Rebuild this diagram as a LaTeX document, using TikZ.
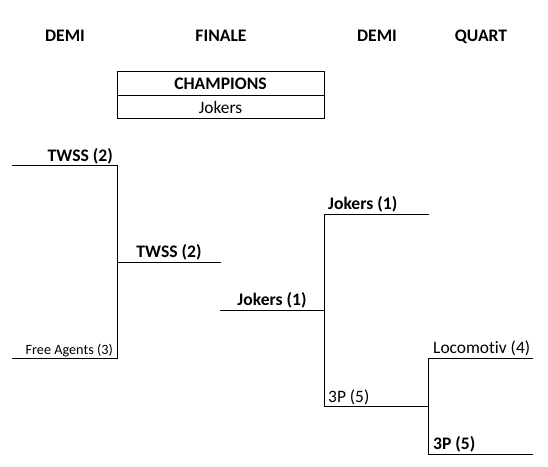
\documentclass[tikz,border=0pt]{standalone}
\usepackage{fontspec}
\setmainfont{Carlito}[Ligatures={NoCommon,NoRare}]
\begin{document}
\begin{tikzpicture}[x=1pt,y=-1pt,
  ln/.style={line width=1pt,black},
  hdr/.style={font=\fontsize{17.6}{20}\selectfont\bfseries,anchor=base,inner sep=0pt},
  bt/.style={font=\fontsize{17.6}{20}\selectfont\bfseries,inner sep=0pt},
  rt/.style={font=\fontsize{17.4}{20}\selectfont,inner sep=0pt},
  st/.style={font=\fontsize{14.2}{16}\selectfont,inner sep=0pt}]
\useasboundingbox[fill=white] (0,0) rectangle (548,466);
% headers
\node[hdr] (h1) at (65,41) {DEMI};
\node[hdr] (h2) at (221,41) {FINALE};
\node[hdr] (h3) at (377,41) {DEMI};
\node[hdr] (h4) at (481,41) {QUART};
% champions box
\draw[ln] (117,71) rectangle (324,118);
\draw[ln] (117,95) -- (324,95);
\node[bt,anchor=base] (champ) at (220.5,89) {CHAMPIONS};
\node[rt,anchor=base] (winner) at (220.5,113) {Jokers};
% coordinates
\coordinate (a1) at (12,165); \coordinate (a2) at (117,165);
\coordinate (b1) at (12,358); \coordinate (b2) at (117,358);
\coordinate (c1) at (117,262); \coordinate (c2) at (221,262);
\coordinate (d1) at (220,310); \coordinate (d2) at (324,310);
\coordinate (e1) at (324,214); \coordinate (e2) at (429,214);
\coordinate (f1) at (324,406); \coordinate (f2) at (428,406);
\coordinate (g1) at (428,358); \coordinate (g2) at (533,358);
\coordinate (k1) at (428,454); \coordinate (k2) at (533,454);
% lines
\draw[ln] (a1) -- (a2) -- (b2) -- (b1);
\draw[ln] (c1) -- (c2);
\draw[ln] (d1) -- (d2);
\draw[ln] (e2) -- (e1) -- (f1) -- (f2);
\draw[ln] (g2) -- (g1) -- (k1) -- (k2);
% labels
\node[bt,anchor=base east] (twss1) at (113,161) {TWSS (2)};
\node[st,anchor=base east] (fa) at (113,354) {Free Agents (3)};
\node[bt,anchor=base] (twss2) at (169,257) {TWSS (2)};
\node[bt,anchor=base] (jok2) at (272,305) {Jokers (1)};
\node[bt,anchor=base west] (jok1) at (328,209) {Jokers (1)};
\node[rt,anchor=base west] (p3a) at (328,402) {3P (5)};
\node[rt,anchor=base west] (loco) at (433,353) {Locomotiv (4)};
\node[bt,anchor=base west] (p3b) at (433,449) {3P (5)};
\end{tikzpicture}
\end{document}
